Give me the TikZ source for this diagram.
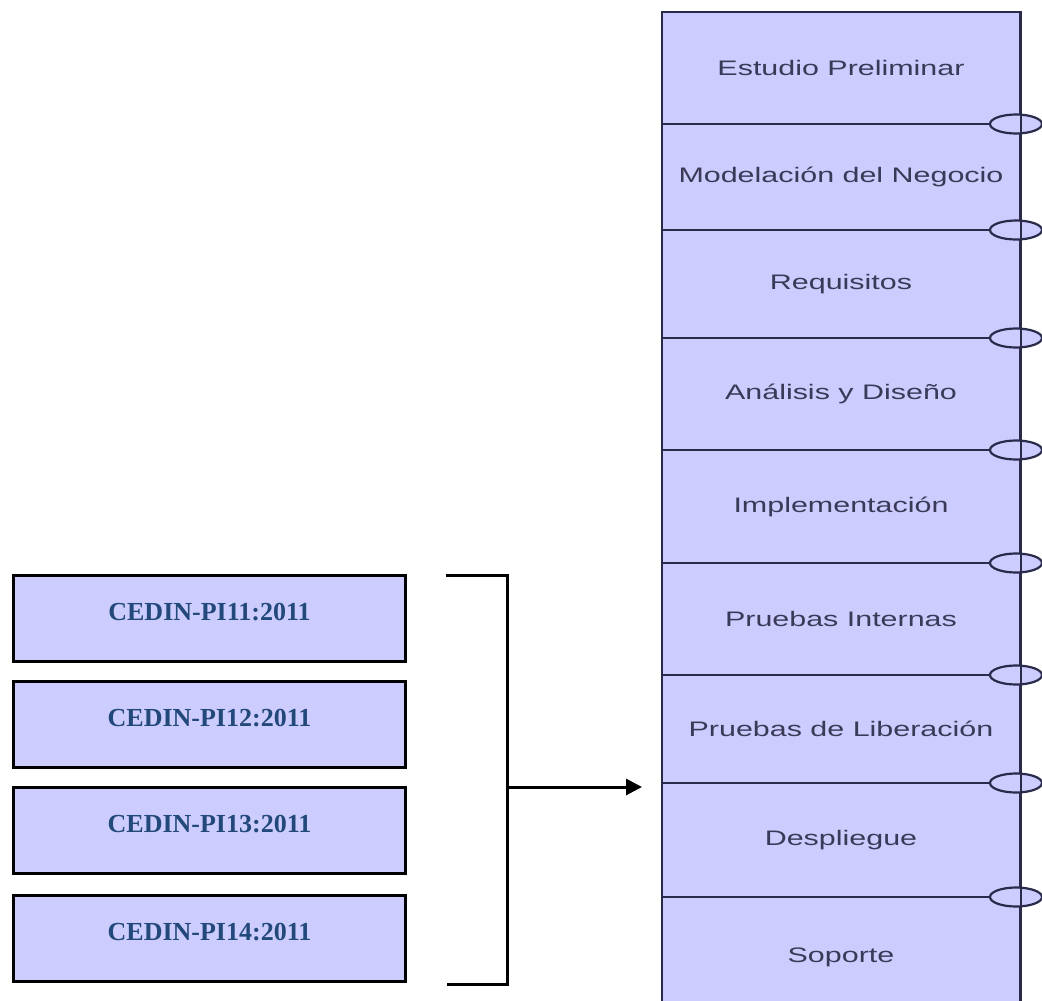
\documentclass[tikz,border=0pt]{standalone}
\usepackage{fontspec}
\setmainfont{Liberation Serif}
\newfontfamily\phasefont[FakeStretch=1.45]{Liberation Sans}
\usetikzlibrary{arrows.meta}
\definecolor{lav}{HTML}{CCCCFF}
\definecolor{navy}{HTML}{2A2A4A}
\definecolor{phasetext}{HTML}{3A3A58}
\definecolor{stdtext}{HTML}{22497A}
\tikzset{
  phase/.style={draw=navy, line width=2.2pt, fill=lav, minimum width=358pt, inner sep=0pt,
    text=phasetext, font=\phasefont\fontsize{21pt}{24pt}\selectfont},
  stdbox/.style={draw=black, line width=3pt, fill=lav, minimum width=392pt, minimum height=86pt,
    inner sep=0pt, text=stdtext, font=\bfseries\fontsize{26pt}{30pt}\selectfont},
  conn/.style={draw=navy, line width=2.2pt, fill=lav},
  brk/.style={draw=black, line width=3pt},
}
\begin{document}
\begin{tikzpicture}[x=1pt,y=-1pt]
\useasboundingbox (0,0) rectangle (1042,1001);
\clip (0,0) rectangle (1042,1001);
% phase column
\node[phase, minimum height=112pt] (p1) at (841,68) {Estudio Preliminar};
\node[phase, minimum height=106pt] (p2) at (841,177) {Modelación del Negocio};
\node[phase, minimum height=108pt] (p3) at (841,284) {Requisitos};
\node[phase, minimum height=112pt] (p4) at (841,394) {Análisis y Diseño};
\node[phase, minimum height=113pt] (p5) at (841,506.5) {Implementación};
\node[phase, minimum height=112pt] (p6) at (841,619) {Pruebas Internas};
\node[phase, minimum height=108pt] (p7) at (841,729) {Pruebas de Liberación};
\node[phase, minimum height=114pt] (p8) at (841,840) {Despliegue};
\node[phase, minimum height=120pt] (p9) at (841,957) {Soporte};
% connectors between phases
\foreach \y in {124,230,338,450,563,675,783,897}{
  \path[conn] (1016,\y) ellipse [x radius=26pt, y radius=9.5pt];
}
\draw[navy, line width=2.2pt] (p1.north east) -- (p9.south east);
% standards
\node[stdbox] (s1) at (209.5,618.5) {\raisebox{-2pt}[0pt][0pt]{CEDIN-PI11:2011}};
\node[stdbox] (s2) at (209.5,724.5) {\raisebox{-2pt}[0pt][0pt]{CEDIN-PI12:2011}};
\node[stdbox] (s3) at (209.5,830.5) {\raisebox{-2pt}[0pt][0pt]{CEDIN-PI13:2011}};
\node[stdbox] (s4) at (209.5,938.5) {\raisebox{-2pt}[0pt][0pt]{CEDIN-PI14:2011}};
% bracket
\coordinate (bt) at (446,575);
\coordinate (bb) at (447,984);
\coordinate (bm) at (507,787);
\coordinate (at) at (642,787);
\draw[brk] (bt) -- (507,575) -- (507,984) -- (bb);
\draw[brk, -{Triangle[length=16pt,width=16pt]}] (bm) -- (at);
\end{tikzpicture}
\end{document}
